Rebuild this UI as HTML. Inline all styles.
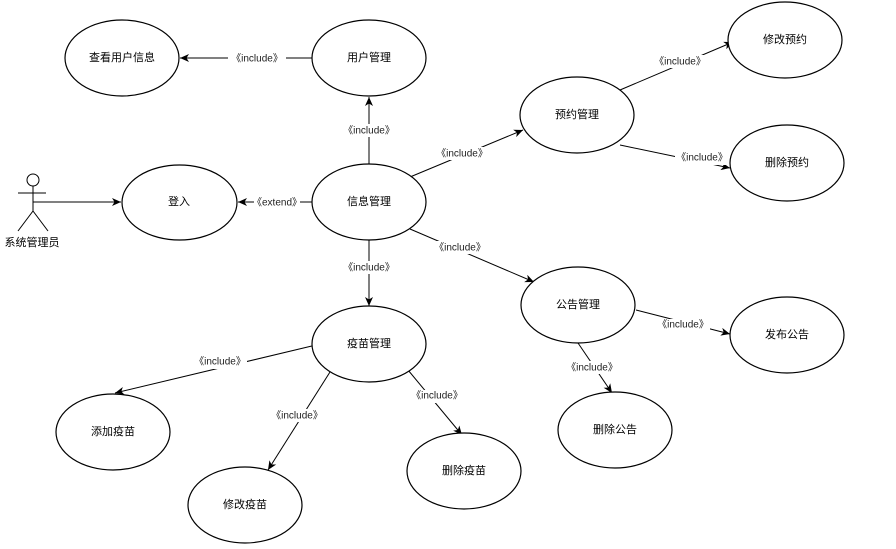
<!DOCTYPE html>
<html><head><meta charset="utf-8"><style>
body{margin:0;background:#fff}
svg{display:block;font-family:"Liberation Sans","Noto Sans CJK SC",sans-serif}
.e{fill:#fff;stroke:#000;stroke-width:1.2}
.l{stroke:#000;stroke-width:1;fill:none}
.t{font-size:11px;text-anchor:middle;dominant-baseline:middle}
.s{font-size:10px;text-anchor:middle;dominant-baseline:middle;fill:#222}
.bg{fill:#fff}
</style></head><body>
<svg width="896" height="549" viewBox="0 0 896 549">
<defs><marker id="a" markerWidth="10" markerHeight="10" refX="9" refY="5" orient="auto" markerUnits="userSpaceOnUse"><path d="M0,1 L9,5 L0,9 L2.5,5 Z" fill="#000"/></marker></defs>
<!-- actor -->
<circle cx="33" cy="180" r="6" class="l"/>
<line x1="33" y1="186" x2="33" y2="211" class="l"/>
<line x1="18" y1="193" x2="46" y2="193" class="l"/>
<line x1="33" y1="211" x2="18" y2="231" class="l"/>
<line x1="33" y1="211" x2="48" y2="231" class="l"/>
<text x="32" y="243" class="t">系统管理员</text>
<!-- lines -->
<line x1="33" y1="202" x2="121" y2="202" class="l" marker-end="url(#a)"/>
<line x1="312" y1="202" x2="238" y2="202" class="l" marker-end="url(#a)"/>
<line x1="312" y1="58" x2="180" y2="58" class="l" marker-end="url(#a)"/>
<line x1="369" y1="164" x2="369" y2="97" class="l" marker-end="url(#a)"/>
<line x1="369" y1="240" x2="369" y2="306" class="l" marker-end="url(#a)"/>
<line x1="410" y1="177" x2="523" y2="130" class="l" marker-end="url(#a)"/>
<line x1="410" y1="229" x2="534" y2="282" class="l" marker-end="url(#a)"/>
<line x1="620" y1="90" x2="733" y2="42" class="l" marker-end="url(#a)"/>
<line x1="620" y1="145" x2="730" y2="168" class="l" marker-end="url(#a)"/>
<line x1="636" y1="310" x2="730" y2="334" class="l" marker-end="url(#a)"/>
<line x1="578" y1="343" x2="612" y2="393" class="l" marker-end="url(#a)"/>
<line x1="316" y1="345" x2="115" y2="393" class="l" marker-end="url(#a)"/>
<line x1="330" y1="372" x2="268" y2="470" class="l" marker-end="url(#a)"/>
<line x1="408" y1="370" x2="462" y2="435" class="l" marker-end="url(#a)"/>
<!-- labels -->
<rect x="254" y="196" width="46" height="13" class="bg"/><text x="277" y="203" class="s">《extend》</text>
<rect x="228" y="52" width="58" height="13" class="bg"/><text x="257" y="59" class="s">《include》</text>
<rect x="342" y="124" width="54" height="13" class="bg"/><text x="369" y="131" class="s">《include》</text>
<rect x="342" y="261" width="54" height="13" class="bg"/><text x="369" y="268" class="s">《include》</text>
<rect x="435" y="147" width="54" height="13" class="bg"/><text x="462" y="154" class="s">《include》</text>
<rect x="433" y="241" width="54" height="13" class="bg"/><text x="460" y="248" class="s">《include》</text>
<rect x="653" y="55" width="54" height="13" class="bg"/><text x="680" y="62" class="s">《include》</text>
<rect x="675" y="152" width="54" height="13" class="bg"/><text x="702" y="158" class="s">《include》</text>
<rect x="656" y="319" width="54" height="13" class="bg"/><text x="683" y="325" class="s">《include》</text>
<rect x="565" y="361" width="54" height="13" class="bg"/><text x="592" y="368" class="s">《include》</text>
<rect x="193" y="356" width="54" height="13" class="bg"/><text x="220" y="362" class="s">《include》</text>
<rect x="270" y="409" width="54" height="13" class="bg"/><text x="297" y="416" class="s">《include》</text>
<rect x="410" y="390" width="54" height="13" class="bg"/><text x="437" y="396" class="s">《include》</text>
<!-- ellipses -->
<g>
<ellipse cx="122" cy="58" rx="57" ry="38" class="e"/><text x="122" y="58" class="t">查看用户信息</text>
<ellipse cx="369" cy="58" rx="57" ry="38" class="e"/><text x="369" y="58" class="t">用户管理</text>
<ellipse cx="785" cy="40" rx="57" ry="38" class="e"/><text x="785" y="40" class="t">修改预约</text>
<ellipse cx="577" cy="115" rx="57" ry="38" class="e"/><text x="577" y="115" class="t">预约管理</text>
<ellipse cx="787" cy="163" rx="57" ry="38" class="e"/><text x="787" y="163" class="t">删除预约</text>
<ellipse cx="179.5" cy="202.5" rx="57.5" ry="37.5" class="e"/><text x="179" y="202" class="t">登入</text>
<ellipse cx="369" cy="202" rx="57" ry="38" class="e"/><text x="369" y="202" class="t">信息管理</text>
<ellipse cx="578" cy="305" rx="57" ry="38" class="e"/><text x="578" y="305" class="t">公告管理</text>
<ellipse cx="787" cy="335" rx="57" ry="38" class="e"/><text x="787" y="335" class="t">发布公告</text>
<ellipse cx="369" cy="344" rx="57" ry="38" class="e"/><text x="369" y="344" class="t">疫苗管理</text>
<ellipse cx="113" cy="432" rx="57" ry="38" class="e"/><text x="113" y="432" class="t">添加疫苗</text>
<ellipse cx="464" cy="471" rx="57" ry="38" class="e"/><text x="464" y="471" class="t">删除疫苗</text>
<ellipse cx="615" cy="430" rx="57" ry="38" class="e"/><text x="615" y="430" class="t">删除公告</text>
<ellipse cx="245" cy="505" rx="57" ry="38" class="e"/><text x="245" y="505" class="t">修改疫苗</text>
</g>
</svg>
</body></html>
